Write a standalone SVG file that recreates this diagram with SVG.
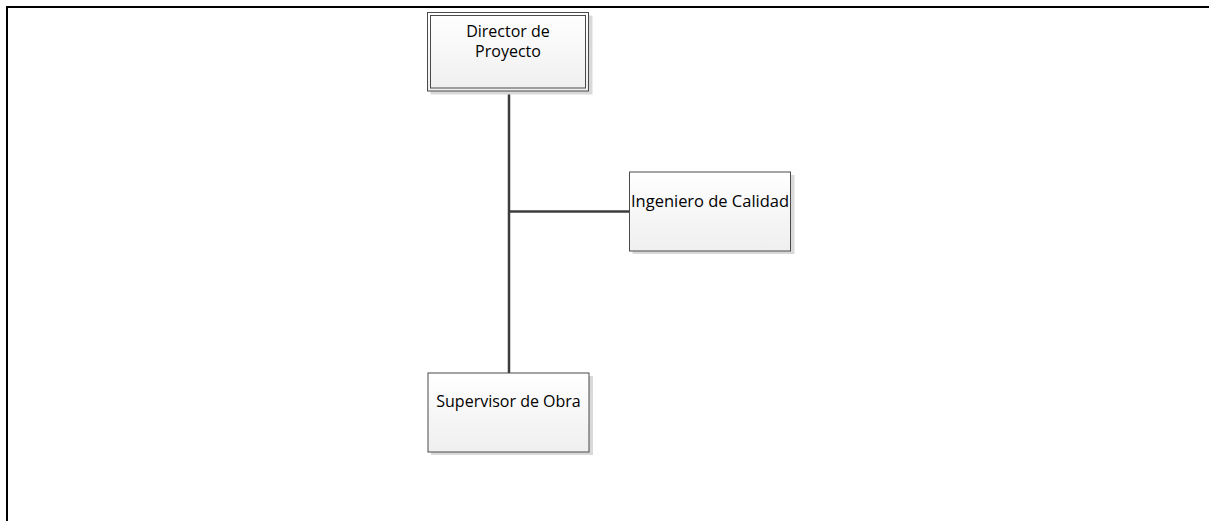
<svg xmlns="http://www.w3.org/2000/svg" width="1209" height="521" viewBox="0 0 1209 521">
<defs>
<linearGradient id="g" x1="0" y1="0" x2="0" y2="1">
<stop offset="0" stop-color="#ffffff"/>
<stop offset="1" stop-color="#efefef"/>
</linearGradient>
<style>
.shadow{fill:#d9d9d9;}
.box{fill:url(#g);stroke:#4a4a4a;stroke-width:1;}
.inner{fill:none;stroke:#4a4a4a;stroke-width:1;}
.t{font-family:"Open Sans","Liberation Sans",sans-serif;font-size:16px;fill:#000;}
.c{fill:none;stroke:#3c3c3c;stroke-width:2.5;}
</style>
</defs>
<rect width="1209" height="521" fill="#fff"/>
<path d="M7 521 V7 H1209" fill="none" stroke="#000" stroke-width="2"/>
<g id="connectors">
<line class="c" x1="509" y1="91" x2="509" y2="373"/>
<line class="c" x1="509" y1="211.5" x2="629" y2="211.5"/>
</g>
<g id="director">
<rect class="shadow" x="430.5" y="15.5" width="162" height="79"/>
<rect class="box" x="427.5" y="12.5" width="161" height="78.5"/>
<rect class="inner" x="430.5" y="15.5" width="155" height="72.5"/>
<text class="t" x="508" y="37" text-anchor="middle">Director de</text>
<text class="t" x="508" y="57" text-anchor="middle">Proyecto</text>
</g>
<g id="ingeniero">
<rect class="shadow" x="632.5" y="175" width="162" height="79"/>
<rect class="box" x="629.5" y="172" width="161" height="79"/>
<text class="t" x="631" y="207" textLength="158" lengthAdjust="spacingAndGlyphs">Ingeniero de Calidad</text>
</g>
<g id="supervisor">
<rect class="shadow" x="431" y="376" width="162" height="79"/>
<rect class="box" x="428" y="373" width="161" height="79"/>
<text class="t" x="508.5" y="407" text-anchor="middle">Supervisor de Obra</text>
</g>
</svg>
